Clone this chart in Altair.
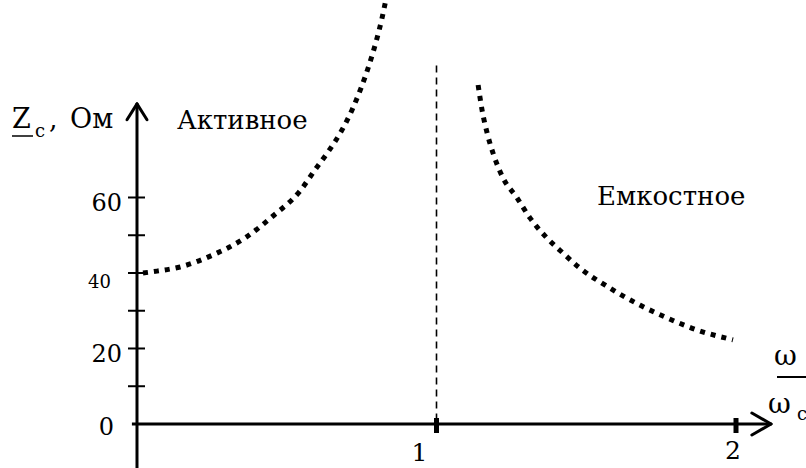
import altair as alt
import pandas as pd

# Impedance of the parallel circuit vs. relative frequency omega/omega_0
left_w = [0.02, 0.067, 0.144, 0.254, 0.361, 0.454, 0.544, 0.594, 0.638, 0.681,
          0.718, 0.748, 0.775, 0.798, 0.818, 0.835]
left_z = [40.0, 40.5, 41.6, 44.8, 49.3, 55.1, 61.7, 67.3, 72.1, 77.4,
          83.2, 89.0, 95.1, 101.2, 107.5, 114.0]

right_w = [1.139, 1.152, 1.169, 1.192, 1.222, 1.269, 1.312, 1.366, 1.422, 1.479,
           1.579, 1.679, 1.770, 1.870, 1.990]
right_z = [89.8, 83.2, 77.1, 71.0, 65.2, 59.9, 54.6, 49.5, 45.3, 41.3,
           36.0, 31.5, 28.1, 24.9, 22.3]

y_ticks = [10, 20, 30, 40, 50, 60]
y_big_labels = [20, 60]
x_ticks = [1, 2]
resonance = 1

FONT = "DejaVu Serif"
W, H = 806, 468

XS = alt.Scale(domain=[-0.4574, 2.2337], nice=False, zero=False)
YS = alt.Scale(domain=[-11.66, 112.32], nice=False, zero=False)


def xd(v):
    return alt.XDatum(v, type="quantitative", scale=XS, axis=None)


def yd(v):
    return alt.YDatum(v, type="quantitative", scale=YS, axis=None)


one = pd.DataFrame({"k": [0]})
base = alt.Chart(one)

curves = pd.concat([
    pd.DataFrame({"w": left_w, "z": left_z, "branch": "L", "i": range(len(left_w))}),
    pd.DataFrame({"w": right_w, "z": right_z, "branch": "R", "i": range(len(right_w))}),
])

curve = alt.Chart(curves).mark_line(
    color="black", strokeWidth=5, strokeDash=[5, 6], strokeCap="butt",
    interpolate="monotone", clip=True,
).encode(
    x=alt.X("w:Q", scale=XS, axis=None),
    y=alt.Y("z:Q", scale=YS, axis=None),
    detail="branch:N",
    order="i:Q",
)

# resonance marker
res_line = base.mark_rule(color="black", strokeWidth=1.6, strokeDash=[7, 5]).encode(
    x=xd(resonance), y=yd(95.0), y2=alt.Y2Datum(0)
)

# axes with arrowheads
ax_y = base.mark_rule(color="black", strokeWidth=3).encode(
    x=xd(0), y=yd(-11.66), y2=alt.Y2Datum(84.8))
ax_y_a1 = base.mark_rule(color="black", strokeWidth=3, strokeCap="round").encode(
    x=xd(0), y=yd(84.8), x2=alt.X2Datum(-0.0334), y2=alt.Y2Datum(80.6))
ax_y_a2 = base.mark_rule(color="black", strokeWidth=3, strokeCap="round").encode(
    x=xd(0), y=yd(84.8), x2=alt.X2Datum(0.0334), y2=alt.Y2Datum(80.6))

ax_x = base.mark_rule(color="black", strokeWidth=3).encode(
    x=xd(-0.017), x2=alt.X2Datum(2.117), y=yd(0))
ax_x_a1 = base.mark_rule(color="black", strokeWidth=3, strokeCap="round").encode(
    x=xd(2.117), y=yd(0), x2=alt.X2Datum(2.053), y2=alt.Y2Datum(2.9))
ax_x_a2 = base.mark_rule(color="black", strokeWidth=3, strokeCap="round").encode(
    x=xd(2.117), y=yd(0), x2=alt.X2Datum(2.053), y2=alt.Y2Datum(-2.9))

yt = alt.Chart(pd.DataFrame({"z": y_ticks})).mark_rule(color="black", strokeWidth=2).encode(
    y=alt.Y("z:Q", scale=YS, axis=None), x=alt.value(128), x2=alt.value(145))

xt = alt.Chart(pd.DataFrame({"w": x_ticks})).mark_rule(color="black", strokeWidth=5).encode(
    x=alt.X("w:Q", scale=XS, axis=None), y=alt.value(418), y2=alt.value(433))

# tick labels
ylab = alt.Chart(pd.DataFrame({"z": y_big_labels})).mark_text(
    font=FONT, fontSize=24, align="right", baseline="alphabetic", dy=14, color="black"
).encode(y=alt.Y("z:Q", scale=YS, axis=None), x=alt.value(122), text="z:Q")

ylab0 = base.mark_text(font=FONT, fontSize=24, align="right", baseline="alphabetic",
                       dy=11, text="0", color="black").encode(y=yd(0), x=alt.value(114))
ylab40 = base.mark_text(font=FONT, fontSize=18, align="right", baseline="alphabetic",
                        dy=15, text="40", color="black").encode(y=yd(40), x=alt.value(111))

xlab1 = base.mark_text(font=FONT, fontSize=25, align="center", baseline="alphabetic",
                       dx=-17, text="1", color="black").encode(x=xd(1), y=alt.value(461))
xlab2 = base.mark_text(font=FONT, fontSize=25, align="center", baseline="alphabetic",
                       dx=-3, text="2", color="black").encode(x=xd(2), y=alt.value(459))


def label(txt, x, y, size, align="left"):
    return base.mark_text(font=FONT, fontSize=size, align=align, baseline="alphabetic",
                          text=txt, color="black").encode(x=alt.value(x), y=alt.value(y))


# y-axis title: underlined Z with subscript c
z_title = label("Z", 12, 128, 27)
z_under = base.mark_rule(color="black", strokeWidth=1.5).encode(
    x=alt.value(12), x2=alt.value(33), y=alt.value(136))
z_sub = label("c", 35, 137, 18)
z_comma = label(",", 49, 128, 27)
z_unit = label("Ом", 70, 128, 27)

act = label("Активное", 177, 129, 26)
cap = label("Емкостное", 597, 205, 26)

# x-axis title as a fraction omega / omega_0
om_top = label("ω", 774, 365, 28)
om_bar = base.mark_rule(color="black", strokeWidth=2).encode(
    x=alt.value(777), x2=alt.value(812), y=alt.value(377))
om_bot = label("ω", 768, 413, 28)
om_sub = label("c", 797, 420, 18)

chart = alt.layer(
    res_line, curve,
    ax_y, ax_y_a1, ax_y_a2, ax_x, ax_x_a1, ax_x_a2, yt, xt,
    ylab, ylab0, ylab40, xlab1, xlab2,
    z_title, z_under, z_sub, z_comma, z_unit, act, cap,
    om_top, om_bar, om_bot, om_sub,
).properties(
    width=W, height=H, padding=0, autosize="none", background="white"
).configure_view(stroke=None)

chart.save("out.html", embed_options={"renderer": "svg", "actions": False})
